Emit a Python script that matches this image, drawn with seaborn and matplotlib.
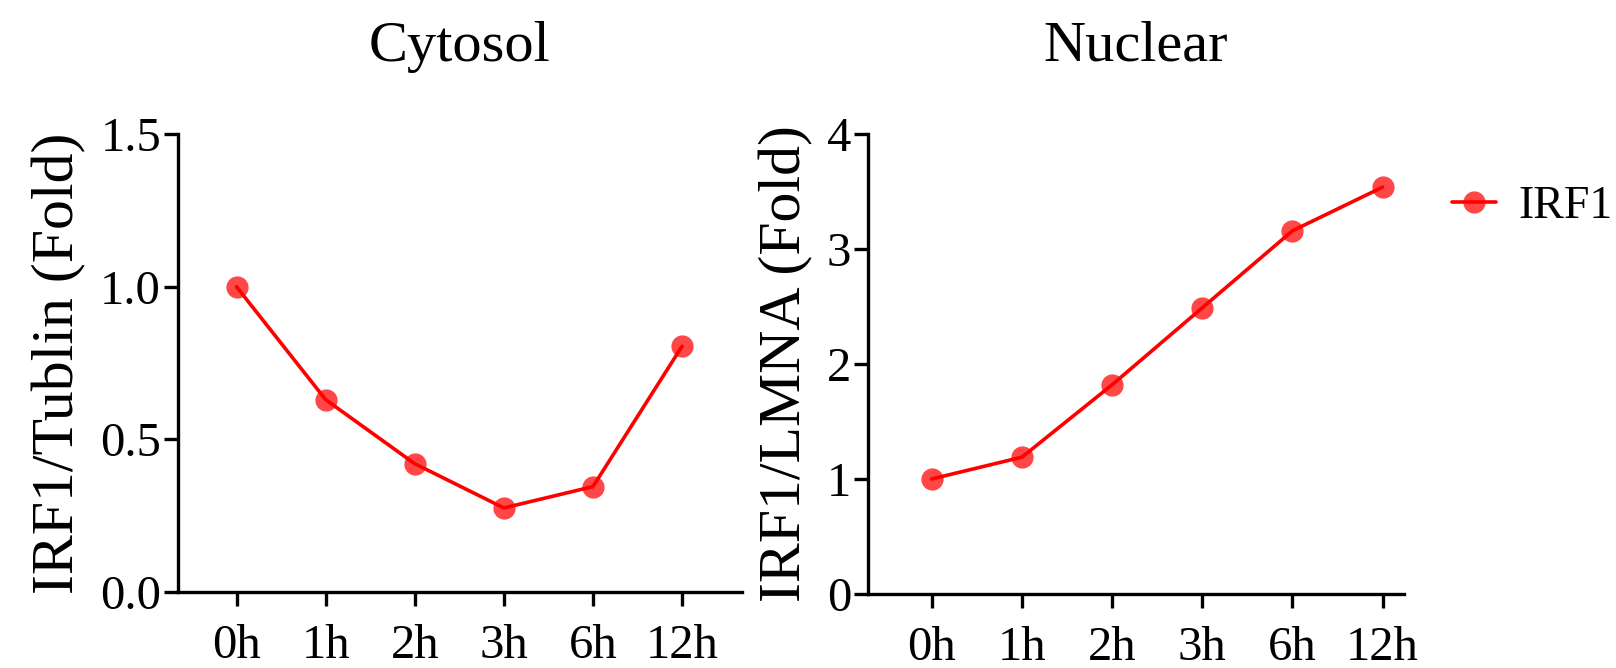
import numpy as np
import pandas as pd
import matplotlib
matplotlib.use('Agg')
import matplotlib.pyplot as plt
import seaborn as sns

# data
time_points = ['0h', '1h', '2h', '3h', '6h', '12h']
cytosol_fold = [1.00, 0.63, 0.42, 0.275, 0.345, 0.805]
nuclear_fold = [1.00, 1.19, 1.82, 2.49, 3.16, 3.54]
series_name = 'IRF1'

sns.set_style('ticks')
plt.rcParams['font.family'] = ['Liberation Serif', 'DejaVu Serif']
plt.rcParams['text.color'] = 'black'
plt.rcParams['axes.labelcolor'] = 'black'
plt.rcParams['xtick.color'] = 'black'
plt.rcParams['ytick.color'] = 'black'

df_cyto = pd.DataFrame({'time': time_points, 'fold': cytosol_fold, 'gene': series_name})
df_nuc = pd.DataFrame({'time': time_points, 'fold': nuclear_fold, 'gene': series_name})

fig = plt.figure(figsize=(16.16, 6.68), dpi=100)
ax1 = fig.add_axes([0.110, 0.114, 0.349, 0.685])
ax2 = fig.add_axes([0.537, 0.111, 0.332, 0.688])

line_kw = dict(color='red', linewidth=2.6, marker='o', markersize=16,
               markerfacecolor=(1, 0, 0, 0.72), markeredgecolor='none')

sns.lineplot(data=df_cyto, x='time', y='fold', ax=ax1, legend=False, **line_kw)
sns.lineplot(data=df_nuc, x='time', y='fold', ax=ax2, label=series_name, **line_kw)


def style_axis(ax, ylim, yticks, fmt, ylabel, title, xlim):
    ax.set_ylim(*ylim)
    ax.set_xlim(*xlim)
    ax.set_yticks(yticks)
    ax.set_yticklabels([fmt.format(v) for v in yticks])
    ax.set_xlabel('')
    ax.set_ylabel(ylabel, fontsize=43, labelpad=10)
    ax.set_title(title, fontsize=42, pad=53)
    for side in ('top', 'right'):
        ax.spines[side].set_visible(False)
    for side in ('left', 'bottom'):
        ax.spines[side].set_linewidth(2.4)
        ax.spines[side].set_color('black')
    ax.tick_params(axis='both', which='major', labelsize=35, width=2.4,
                   length=10, color='black', direction='out')
    ax.tick_params(axis='x', pad=13)
    ax.tick_params(axis='y', pad=2)


style_axis(ax1, (0, 1.5), [0, 0.5, 1.0, 1.5], '{:.1f}',
           'IRF1/Tublin (Fold)', 'Cytosol', (-0.66, 5.67))
style_axis(ax2, (0, 4), [0, 1, 2, 3, 4], '{:.0f}',
           'IRF1/LMNA (Fold)', 'Nuclear', (-0.71, 5.24))

ax2.get_legend().remove()
handles, labels = ax2.get_legend_handles_labels()
fig.legend(handles, labels, loc='center left', bbox_to_anchor=(0.8985, 0.690),
           frameon=False, fontsize=33, handlelength=0.95, handletextpad=0.5,
           borderpad=0, borderaxespad=0)

fig.savefig('out.png', dpi=100)
